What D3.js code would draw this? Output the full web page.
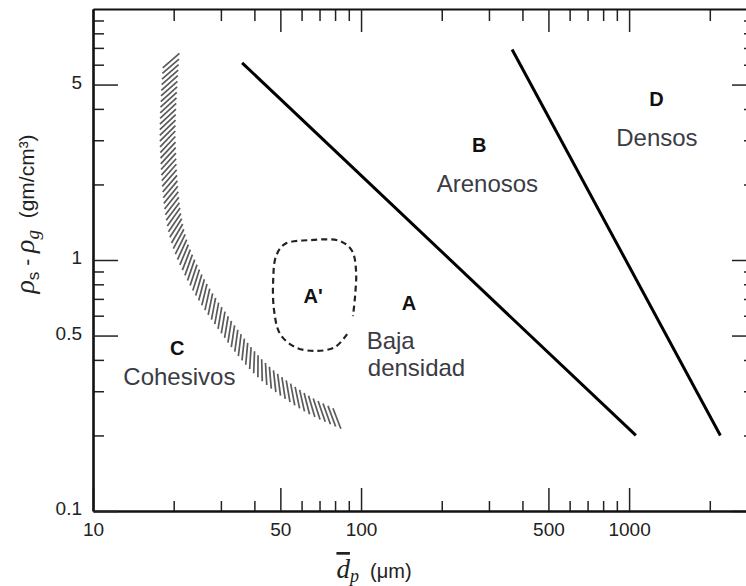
<!DOCTYPE html>
<html>
<head>
<meta charset="utf-8">
<script src="https://cdn.jsdelivr.net/npm/d3@7"></script>
<style>
body{margin:0;background:#fff;}
svg{display:block;font-family:"Liberation Sans",Arial,sans-serif;}
</style>
</head>
<body>
<div id="chart-area"></div>
<script>
// tick values
var xLabeled = [10, 50, 100, 500, 1000];
var xMinor = [20, 30, 40, 60, 70, 80, 90, 200, 300, 400, 600, 700, 800, 900, 2000];
var yLabeled = [0.1, 0.5, 1, 5];
var yMinor = [0.2, 0.3, 0.4, 0.6, 0.7, 0.8, 0.9, 2, 3, 4, 6, 7, 8, 9];

// boundaries (dp in um, rho_s - rho_g in g/cm3)
var boundaryAB = [[36, 6.1], [1060, 0.2]];
var boundaryBD = [[366, 6.9], [2190, 0.2]];
var boundaryC = [[19.6, 6.4], [19.0, 3.0], [20.5, 1.3], [24, 0.85], [30, 0.58], [42, 0.37], [62, 0.27], [84, 0.23]];
var regionAprime = [[88.7, 0.507], [80, 0.45], [67.4, 0.434], [56.7, 0.45], [49.9, 0.507], [47.4, 0.626],
                    [47.0, 0.825], [48.2, 1.037], [52.0, 1.158], [64.5, 1.20], [83.5, 1.19], [92.6, 1.086],
                    [95.8, 0.904], [95.0, 0.719], [93.3, 0.598]];

// group letters and names
var groupLetters = ["D", "B", "A", "A'", "C"];
var letterPos = [[1265, 4.11], [276, 2.69], [151, 0.632], [66.3, 0.674], [20.6, 0.418]];
var groupNames = ["Densos", "Arenosos", "Baja", "densidad", "Cohesivos"];
var namePos = [[1270, 2.85], [296, 1.87], [129, 0.44], [161, 0.345], [21, 0.318]];

var total_width = 746, total_height = 586;
var margin = {top: 9, left: 93};
var width = 664, height = 502;

var svg = d3.select('#chart-area').append('svg')
            .attr("width", total_width)
            .attr("height", total_height);

var g = svg.append('g')
           .attr("transform", "translate(" + margin.left + "," + margin.top + ")");

var x = d3.scaleLog().domain([10, 3000]).range([0, width]);
var y = d3.scaleLog().domain([0.1, 10]).range([height, 0]);

function styleAxis(sel, domainWidth) {
  sel.selectAll(".tick line").attr("stroke", "#222").attr("stroke-width", 1.5);
  sel.selectAll("text").attr("fill", "#222").style("font-size", "19px")
     .style("font-family", "'Liberation Sans', Arial, sans-serif");
  if (domainWidth) sel.select(".domain").attr("stroke", "#111").attr("stroke-width", domainWidth);
  else sel.select(".domain").remove();
}

// minor ticks
g.append("g").attr("transform", "translate(0," + height + ")")
 .call(d3.axisBottom(x).tickValues(xMinor).tickSize(-10).tickSizeOuter(0).tickFormat(""))
 .call(styleAxis, 0);
g.append("g")
 .call(d3.axisTop(x).tickValues(xMinor).tickSize(-12).tickSizeOuter(0).tickFormat(""))
 .call(styleAxis, 0);
g.append("g")
 .call(d3.axisLeft(y).tickValues(yMinor).tickSize(-11).tickSizeOuter(0).tickFormat(""))
 .call(styleAxis, 0);
g.append("g").attr("transform", "translate(" + width + ",0)")
 .call(d3.axisRight(y).tickValues(yMinor).tickSize(-13).tickSizeOuter(0).tickFormat(""))
 .call(styleAxis, 0);

// major ticks + domains
g.append("g")
 .call(d3.axisTop(x).tickValues(xLabeled).tickSize(-23).tickSizeOuter(0).tickFormat(""))
 .call(styleAxis, 1.8);
g.append("g").attr("transform", "translate(" + width + ",0)")
 .call(d3.axisRight(y).tickValues(yLabeled).tickSize(-25).tickSizeOuter(0).tickFormat(""))
 .call(styleAxis, 1.8);
g.append("g").attr("transform", "translate(0," + height + ")")
 .call(d3.axisBottom(x).tickValues(xLabeled).tickSize(-23).tickSizeOuter(0)
        .tickPadding(12).tickFormat(d3.format("d")))
 .call(styleAxis, 2.6);
g.append("g")
 .call(d3.axisLeft(y).tickValues(yLabeled).tickSize(-25).tickSizeOuter(0)
        .tickPadding(11).tickFormat(function(d){ return String(d); }))
 .call(styleAxis, 2.6)
 .selectAll("text").attr("dy", "0.2em");

// boundary lines
var lineGen = d3.line().x(function(d){ return x(d[0]); }).y(function(d){ return y(d[1]); });

[boundaryAB, boundaryBD].forEach(function(b){
  g.append("path").datum(b).attr("d", lineGen)
   .attr("fill", "none").attr("stroke", "#000").attr("stroke-width", 3);
});

// hatched band C/A
var bandGen = d3.line().x(function(d){ return x(d[0]); }).y(function(d){ return y(d[1]); })
                .curve(d3.curveCatmullRom);
var guide = g.append("path").datum(boundaryC).attr("d", bandGen)
             .attr("fill", "none").attr("stroke", "none");
var node = guide.node();
var total = node.getTotalLength();
var hatchLen = 22;
var hatch = d3.range(3, total - 2, 5.6).map(function(l){
  var p = node.getPointAtLength(l);
  var a = node.getPointAtLength(Math.max(0, l - 1));
  var b = node.getPointAtLength(Math.min(total, l + 1));
  var tx = b.x - a.x, ty = b.y - a.y, n = Math.sqrt(tx * tx + ty * ty);
  tx /= n; ty /= n;
  var dx = (tx - ty) * Math.SQRT1_2, dy = (tx + ty) * Math.SQRT1_2;
  return {x1: p.x - dx * hatchLen / 2, y1: p.y - dy * hatchLen / 2,
          x2: p.x + dx * hatchLen / 2, y2: p.y + dy * hatchLen / 2};
});
g.append("g").selectAll("line").data(hatch).enter().append("line")
 .attr("x1", function(d){ return d.x1; }).attr("y1", function(d){ return d.y1; })
 .attr("x2", function(d){ return d.x2; }).attr("y2", function(d){ return d.y2; })
 .attr("stroke", "#5a5a5a").attr("stroke-width", 1.7);

// dashed A' region
g.append("path").datum(regionAprime).attr("d", bandGen)
 .attr("fill", "none").attr("stroke", "#222").attr("stroke-width", 2.2)
 .attr("stroke-dasharray", "6,4");

// labels
g.selectAll(".letter").data(groupLetters).enter().append("text")
 .attr("class", "letter")
 .attr("x", function(d, i){ return x(letterPos[i][0]); })
 .attr("y", function(d, i){ return y(letterPos[i][1]); })
 .attr("text-anchor", "middle")
 .style("font-size", "20px").style("font-weight", "bold").attr("fill", "#111")
 .text(function(d){ return d; });

g.selectAll(".name").data(groupNames).enter().append("text")
 .attr("class", "name")
 .attr("x", function(d, i){ return x(namePos[i][0]); })
 .attr("y", function(d, i){ return y(namePos[i][1]); })
 .attr("text-anchor", "middle")
 .style("font-size", "24px").attr("fill", "#3b3b44")
 .text(function(d){ return d; });

// axis titles
var yt = svg.append("text").attr("transform", "translate(34,214) rotate(-90)")
            .attr("text-anchor", "middle").attr("fill", "#222");
yt.append("tspan").style("font-family", "'Liberation Serif', serif").style("font-style", "italic")
  .style("font-size", "28px").text("\u03c1");
yt.append("tspan").style("font-size", "17px").attr("dy", 5).text("s");
yt.append("tspan").style("font-size", "21px").attr("dy", -5).text(" - ");
yt.append("tspan").style("font-family", "'Liberation Serif', serif").style("font-style", "italic")
  .style("font-size", "28px").text("\u03c1");
yt.append("tspan").style("font-family", "'Liberation Serif', serif").style("font-style", "italic")
  .style("font-size", "19px").attr("dy", 5).text("g");
yt.append("tspan").style("font-size", "21px").attr("dy", -5).text("\u00a0 (gm/cm\u00b3)");

var xt = svg.append("text").attr("x", 374).attr("y", 578)
            .attr("text-anchor", "middle").attr("fill", "#222");
xt.append("tspan").style("font-family", "'Liberation Serif', serif").style("font-style", "italic")
  .style("font-size", "27px").style("text-decoration", "overline").text("d");
xt.append("tspan").style("font-family", "'Liberation Serif', serif").style("font-style", "italic")
  .style("font-size", "18px").attr("dy", 4).text("p");
xt.append("tspan").style("font-size", "20px").attr("dy", -4).text("\u00a0 (\u03bcm)");
</script>
</body>
</html>
